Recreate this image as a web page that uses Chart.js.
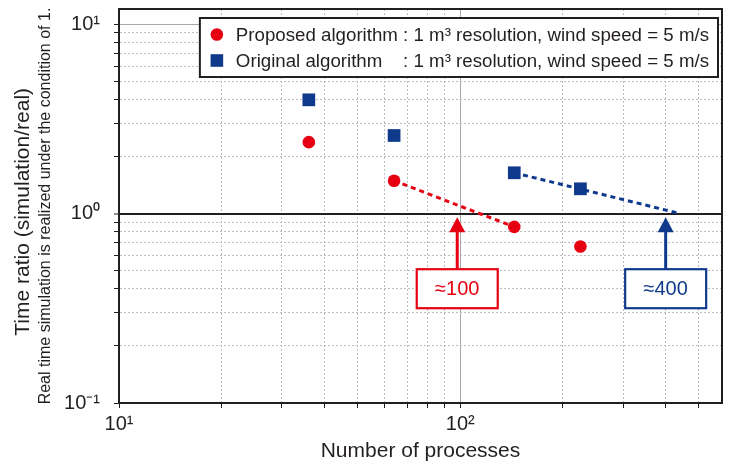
<!DOCTYPE html>
<html>
<head>
<meta charset="utf-8">
<script src="https://cdn.jsdelivr.net/npm/chart.js@4.4.0/dist/chart.umd.min.js"></script>
<style>
  html, body { margin: 0; padding: 0; background: #fff; }
</style>
</head>
<body>
<canvas id="chart" width="731" height="467"></canvas>
<script>
// data
const processes = [36, 64, 144, 225];
const proposedRatio = [2.38, 1.49, 0.85, 0.67];
const originalRatio = [3.98, 2.58, 1.64, 1.35];

// dashed guide lines
const redGuideX = [64, 144];
const redGuideY = [1.49, 0.85];
const blueGuideX = [144, 440];
const blueGuideY = [1.64, 1.0];

// axis ticks
const xTicks = [10, 20, 30, 40, 50, 60, 70, 80, 90, 100, 200, 300, 400, 500];
const yTicks = [0.1, 0.2, 0.3, 0.4, 0.5, 0.6, 0.7, 0.8, 0.9, 1, 2, 3, 4, 5, 6, 7, 8, 9, 10];
const xTickLabels = { 10: "10¹", 100: "10²" };
const yTickLabels = { 0.1: "10⁻¹", 1: "10⁰", 10: "10¹" };

// labels
const seriesLabels = ["Proposed algorithm", "Original algorithm"];
const legendSuffix = ": 1 m³ resolution, wind speed = 5 m/s";
const calloutX = [98, 400];
const calloutText = ["≈100", "≈400"];

const textColor = "#231f20";
const red = "#e60012";
const blue = "#0f3a8c";
const fontFamily = "'Liberation Sans', Arial, Helvetica, sans-serif";

Chart.defaults.font.family = fontFamily;
Chart.defaults.color = textColor;

function isDecade(v) {
  const l = Math.log10(v);
  return Math.abs(l - Math.round(l)) < 1e-9;
}

function toPoints(xs, ys) {
  return xs.map((x, i) => ({ x: x, y: ys[i] }));
}

const overlayPlugin = {
  id: "overlay",
  afterDraw(chart) {
    const ctx = chart.ctx;
    const area = chart.chartArea;
    const xs = chart.scales.x;
    const ys = chart.scales.y;
    const colors = [red, blue];

    // callouts (arrow + box)
    calloutX.forEach((xv, i) => {
      const px = xs.getPixelForValue(xv);
      const tip = ys.getPixelForValue(0.955);
      const cy = ys.getPixelForValue(0.401);
      const w = 81, h = 39;
      ctx.save();
      ctx.strokeStyle = colors[i];
      ctx.fillStyle = colors[i];
      ctx.lineWidth = 3;
      ctx.beginPath();
      ctx.moveTo(px, cy - h / 2);
      ctx.lineTo(px, tip + 12);
      ctx.stroke();
      ctx.beginPath();
      ctx.moveTo(px, tip);
      ctx.lineTo(px - 8, tip + 15);
      ctx.lineTo(px + 8, tip + 15);
      ctx.closePath();
      ctx.fill();
      ctx.fillStyle = "#fff";
      ctx.fillRect(px - w / 2, cy - h / 2, w, h);
      ctx.lineWidth = 2.2;
      ctx.strokeRect(px - w / 2, cy - h / 2, w, h);
      ctx.fillStyle = colors[i];
      ctx.font = "20px " + fontFamily;
      ctx.textAlign = "center";
      ctx.textBaseline = "middle";
      ctx.fillText(calloutText[i], px, cy + 1);
      ctx.restore();
    });

    // legend box
    ctx.save();
    ctx.font = "18.7px " + fontFamily;
    const textStart = 36;
    const labelW = Math.max(...seriesLabels.map((s) => ctx.measureText(s + " ").width));
    const boxW = textStart + labelW + ctx.measureText(legendSuffix).width + 9;
    const boxH = 59;
    const right = area.right - 4;
    const left = right - boxW;
    const top = area.top + 9;
    ctx.fillStyle = "#fff";
    ctx.fillRect(left, top, boxW, boxH);
    ctx.strokeStyle = textColor;
    ctx.lineWidth = 2;
    ctx.strokeRect(left, top, boxW, boxH);
    const rows = [top + 16.5, top + 42.5];
    ctx.textBaseline = "middle";
    ctx.textAlign = "left";
    rows.forEach((ry, i) => {
      ctx.fillStyle = colors[i];
      if (i === 0) {
        ctx.beginPath();
        ctx.arc(left + 17, ry, 6.3, 0, Math.PI * 2);
        ctx.fill();
      } else {
        ctx.fillRect(left + 17 - 6.3, ry - 6.3, 12.6, 12.6);
      }
      ctx.fillStyle = textColor;
      ctx.fillText(seriesLabels[i], left + textStart, ry + 1);
      ctx.fillText(legendSuffix, left + textStart + labelW, ry + 1);
    });
    ctx.restore();
  }
};

const gridColor = (c) => {
  if (!c.tick) return "#b8b8b8";
  const v = c.tick.value;
  if (v === 1 && c.scale.axis === "y") return textColor;
  if (isDecade(v)) {
    if (v === c.scale.min) return "rgba(0,0,0,0)";
    return "#a8a8a8";
  }
  return "#bcbcbc";
};
const gridWidth = (c) => (c.tick && c.tick.value === 1 && c.scale.axis === "y" ? 2 : 1);
const gridDash = (c) => (c.tick && !isDecade(c.tick.value) ? [2, 2] : []);

const ctx = document.getElementById("chart").getContext("2d");
const chart = new Chart(ctx, {
  type: "scatter",
  data: {
    datasets: [
      {
        label: seriesLabels[0],
        data: toPoints(processes, proposedRatio),
        pointStyle: "circle",
        pointRadius: 6.3,
        backgroundColor: red,
        borderWidth: 0,
        order: 1,
      },
      {
        label: seriesLabels[1],
        data: toPoints(processes, originalRatio),
        pointStyle: "rect",
        pointRadius: 9,
        backgroundColor: blue,
        borderWidth: 0,
        order: 1,
      },
      {
        type: "line",
        data: toPoints(redGuideX, redGuideY),
        borderColor: red,
        borderWidth: 3,
        borderDash: [5, 4],
        pointRadius: 0,
        fill: false,
        order: 2,
      },
      {
        type: "line",
        data: toPoints(blueGuideX, blueGuideY),
        borderColor: blue,
        borderWidth: 3,
        borderDash: [5, 4],
        pointRadius: 0,
        fill: false,
        order: 2,
      },
    ],
  },
  options: {
    responsive: false,
    animation: false,
    devicePixelRatio: 1,
    layout: { padding: { left: 0, right: 4, top: 7, bottom: 0 } },
    plugins: { legend: { display: false }, tooltip: { enabled: false } },
    scales: {
      x: {
        type: "logarithmic",
        position: "bottom",
        min: 10,
        max: 585,
        afterBuildTicks: (s) => {
          s.ticks = xTicks.map((v) => ({ value: v, major: isDecade(v) }));
        },
        afterFit: (s) => {
          s.height = 64;
          s.paddingLeft = 0;
          s.paddingRight = 0;
        },
        ticks: {
          autoSkip: false,
          maxRotation: 0,
          padding: 4,
          color: textColor,
          font: { size: 20 },
          callback: (v) => xTickLabels[v] || "",
        },
        grid: { color: gridColor, lineWidth: gridWidth, tickLength: 5, tickColor: textColor, tickWidth: 1 },
        border: { display: true, color: textColor, width: 2, dash: gridDash },
        title: {
          display: true,
          text: "Number of processes",
          color: textColor,
          font: { size: 21 },
          padding: { top: 0, bottom: 3 },
        },
      },
      y: {
        type: "logarithmic",
        position: "left",
        min: 0.1,
        max: 12,
        weight: 0,
        afterBuildTicks: (s) => {
          s.ticks = yTicks.map((v) => ({ value: v, major: isDecade(v) }));
        },
        afterFit: (s) => {
          s.width = 83;
          s.paddingTop = 0;
          s.paddingBottom = 0;
        },
        ticks: {
          autoSkip: false,
          padding: 14,
          color: textColor,
          font: { size: 20 },
          callback: (v) => yTickLabels[v] || "",
        },
        grid: { color: gridColor, lineWidth: gridWidth, tickLength: 5, tickColor: textColor, tickWidth: 1 },
        border: { display: true, color: textColor, width: 2, dash: gridDash },
        title: {
          display: true,
          text: "Real time simulation is realized under the condition of 1.",
          color: textColor,
          font: { size: 16 },
          padding: { top: 0, bottom: 0 },
        },
      },
      yTitle: {
        type: "linear",
        position: "left",
        weight: 2,
        grid: { display: false, drawTicks: false },
        border: { display: false },
        ticks: { display: false },
        afterFit: (s) => {
          s.width = 36;
        },
        title: {
          display: true,
          text: "Time ratio (simulation/real)  ",
          color: textColor,
          font: { size: 21 },
          padding: { top: 11, bottom: 0 },
        },
      },
      xTop: {
        type: "linear",
        position: "top",
        grid: { display: false, drawTicks: false },
        border: { display: true, color: textColor, width: 2 },
        ticks: { display: false },
        afterFit: (s) => {
          s.height = 0;
        },
      },
      yRight: {
        type: "linear",
        position: "right",
        grid: { display: false, drawTicks: false },
        border: { display: true, color: textColor, width: 2 },
        ticks: { display: false },
        afterFit: (s) => {
          s.width = 0;
        },
      },
    },
  },
  plugins: [overlayPlugin],
});
</script>
</body>
</html>
